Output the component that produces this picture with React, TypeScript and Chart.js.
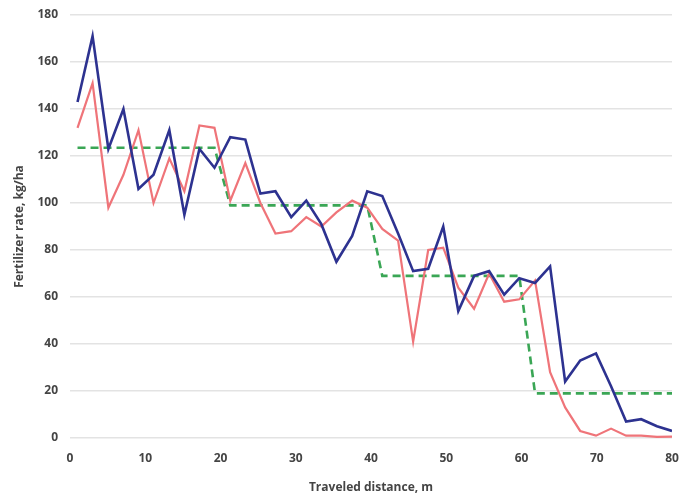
import { useEffect, useRef } from "react";
import { Chart, registerables } from "chart.js";

Chart.register(...registerables);

// Travelled distance of each logged sample, m
const distance = [
  1.0, 3.0, 5.1, 7.1, 9.1, 11.1, 13.2, 15.2, 17.2, 19.2,
  21.3, 23.3, 25.3, 27.3, 29.4, 31.4, 33.4, 35.4, 37.5, 39.5,
  41.5, 43.6, 45.6, 47.6, 49.6, 51.6, 53.7, 55.7, 57.7, 59.7,
  61.8, 63.8, 65.8, 67.8, 69.9, 71.9, 73.9, 75.9, 78.0, 80.0,
];

// Sensor-based target rate, kg/ha (dark blue)
const sensorRate = [
  143, 171, 123, 140, 106, 112, 131, 95, 123, 115,
  128, 127, 104, 105, 94, 101, 91, 75, 86, 105,
  103, 87, 71, 72, 90, 54, 69, 71, 61, 68,
  66, 73, 24, 33, 36, 22, 7, 8, 5, 3,
];

// Applied rate, kg/ha (red)
const appliedRate = [
  132, 151, 98, 112, 131, 100, 119, 105, 133, 132,
  101, 117, 100, 87, 88, 94, 90, 96, 101, 98,
  89, 84, 41, 80, 81, 64, 55, 70, 58, 59,
  67, 28, 13, 3, 1, 4, 1, 1, 0.5, 0.6,
];

// Prescription map rate, kg/ha (green dashed)
const mapRate = [
  123.5, 123.5, 123.5, 123.5, 123.5, 123.5, 123.5, 123.5, 123.5, 123.5,
  99, 99, 99, 99, 99, 99, 99, 99, 99, 99,
  69, 69, 69, 69, 69, 69, 69, 69, 69, 69,
  19, 19, 19, 19, 19, 19, 19, 19, 19, 19,
];

const xTicks = [0, 10, 20, 30, 40, 50, 60, 70, 80];
const yTicks = [0, 20, 40, 60, 80, 100, 120, 140, 160, 180];

const toPoints = (ys: number[]) => ys.map((y, i) => ({ x: distance[i], y }));

const labelFont = { family: "'Open Sans', sans-serif", size: 12, weight: "bold" as const };
const textColor = "#444444";

export default function App() {
  const canvasRef = useRef<HTMLCanvasElement | null>(null);

  useEffect(() => {
    const canvas = canvasRef.current;
    if (!canvas) return;
    const chart = new Chart(canvas, {
      type: "line",
      data: {
        datasets: [
          {
            label: "Sensor rate",
            data: toPoints(sensorRate),
            borderColor: "#2d3290",
            borderWidth: 2.6,
            pointRadius: 0,
            tension: 0,
          },
          {
            label: "Applied rate",
            data: toPoints(appliedRate),
            borderColor: "#ef7479",
            borderWidth: 2.2,
            pointRadius: 0,
            tension: 0,
          },
          {
            label: "Map rate",
            data: toPoints(mapRate),
            borderColor: "#3aa655",
            borderWidth: 2.6,
            borderDash: [8, 5],
            pointRadius: 0,
            tension: 0,
          },
        ],
      },
      options: {
        responsive: false,
        animation: false,
        devicePixelRatio: 1,
        layout: { padding: { top: 15, right: 10, bottom: 0, left: 0 } },
        plugins: { legend: { display: false }, tooltip: { enabled: false } },
        scales: {
          x: {
            type: "linear",
            min: xTicks[0],
            max: xTicks[xTicks.length - 1],
            afterBuildTicks: (s: any) => {
              s.ticks = xTicks.map((v) => ({ value: v }));
            },
            ticks: { padding: 13, font: labelFont, color: textColor, maxRotation: 0 },
            grid: { display: false, drawTicks: false },
            border: { display: false },
            title: {
              display: true,
              text: "Traveled distance, m",
              font: labelFont,
              color: textColor,
              padding: { top: 0, bottom: 4 },
            },
            afterFit: (s: any) => {
              s.height = 61;
              s.paddingLeft = 0;
              s.paddingRight = 0;
            },
          },
          y: {
            type: "linear",
            min: yTicks[0],
            max: yTicks[yTicks.length - 1],
            afterBuildTicks: (s: any) => {
              s.ticks = yTicks.map((v) => ({ value: v }));
            },
            ticks: { padding: 12, font: labelFont, color: textColor },
            grid: { color: "#e3e3e3", lineWidth: 1.5, drawTicks: false },
            border: { display: false },
            title: {
              display: true,
              text: "Fertilizer rate, kg/ha",
              font: labelFont,
              color: textColor,
              padding: { top: 12, bottom: 0 },
            },
            afterFit: (s: any) => {
              s.width = 70;
              s.paddingTop = 0;
              s.paddingBottom = 0;
            },
          },
        },
      },
    });
    return () => chart.destroy();
  }, []);

  return (
    <div style={{ position: "fixed", left: 0, top: 0, width: 682, height: 499, background: "#ffffff" }}>
      <canvas ref={canvasRef} width={682} height={499} />
    </div>
  );
}
